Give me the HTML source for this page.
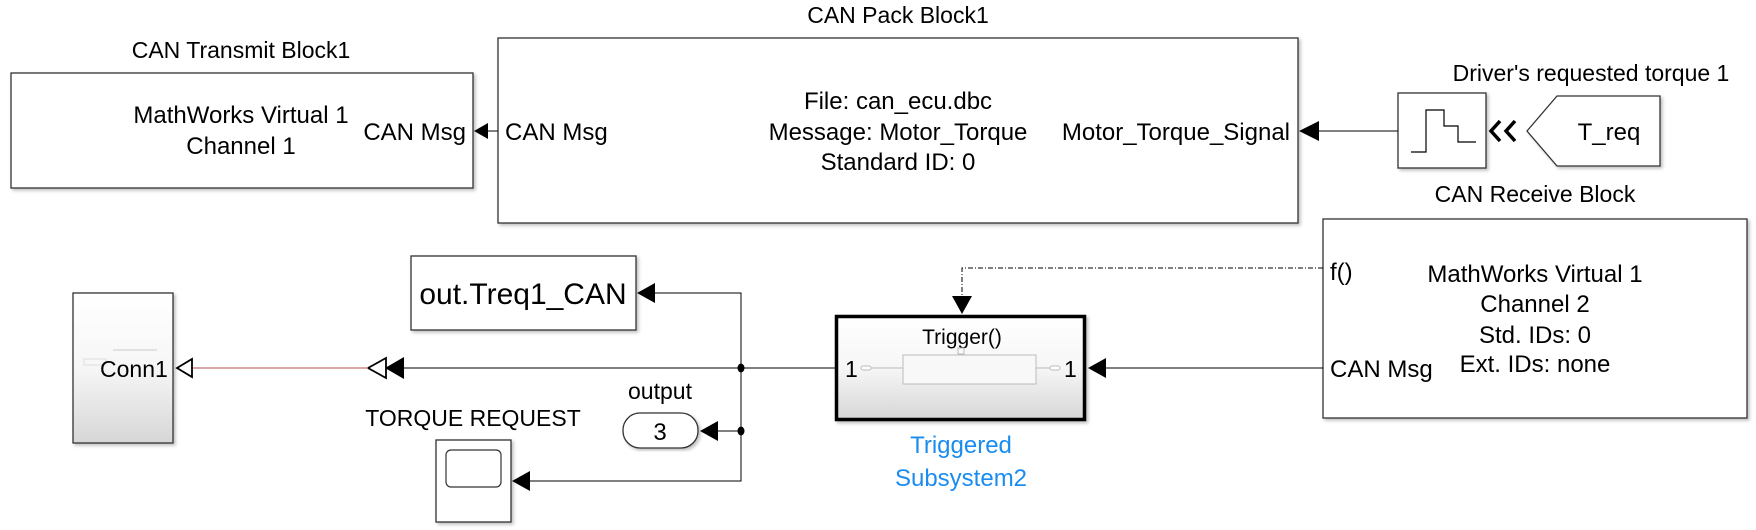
<!DOCTYPE html>
<html><head><meta charset="utf-8"><style>
html,body{margin:0;padding:0;background:#fff;}
svg{display:block;}
text{font-family:"Liberation Sans",Arial,sans-serif;fill:#000;}
</style></head><body>
<svg width="1756" height="530" viewBox="0 0 1756 530" xmlns="http://www.w3.org/2000/svg">
<defs>
<linearGradient id="g" x1="0" y1="0" x2="0" y2="1">
<stop offset="0" stop-color="#ffffff"/><stop offset="0.5" stop-color="#f6f6f6"/><stop offset="1" stop-color="#d6d6d6"/>
</linearGradient>
<filter id="sh" x="-5%" y="-5%" width="115%" height="115%"><feDropShadow dx="2" dy="2" stdDeviation="1.5" flood-color="#000" flood-opacity="0.25"/></filter>
</defs>

<!-- CAN Transmit -->
<text x="241" y="58" font-size="23" text-anchor="middle">CAN Transmit Block1</text>
<rect x="11" y="73" width="462" height="115" fill="#fff" stroke="#333" stroke-width="1.3" filter="url(#sh)"/>
<text x="241" y="123" font-size="24" text-anchor="middle">MathWorks Virtual 1</text>
<text x="241" y="154" font-size="24" text-anchor="middle">Channel 1</text>
<text x="466" y="140" font-size="24" text-anchor="end">CAN Msg</text>

<!-- CAN Pack -->
<text x="898" y="23" font-size="23" text-anchor="middle">CAN Pack Block1</text>
<rect x="498" y="38" width="800" height="185" fill="#fff" stroke="#333" stroke-width="1.3" filter="url(#sh)"/>
<text x="505" y="140" font-size="24">CAN Msg</text>
<text x="898" y="109" font-size="24" text-anchor="middle">File: can_ecu.dbc</text>
<text x="898" y="140" font-size="24" text-anchor="middle">Message: Motor_Torque</text>
<text x="898" y="170" font-size="24" text-anchor="middle">Standard ID: 0</text>
<text x="1290" y="140" font-size="24" text-anchor="end">Motor_Torque_Signal</text>
<polygon points="474,131 488,123 488,139" fill="#000"/>
<line x1="488" y1="131" x2="498" y2="131" stroke="#000" stroke-width="1"/>

<!-- Step + From -->
<text x="1591" y="81" font-size="23" text-anchor="middle">Driver's requested torque 1</text>
<rect x="1398" y="93" width="88" height="75" fill="#fff" stroke="#333" stroke-width="1.3" filter="url(#sh)"/>
<polyline points="1411,152 1426,152 1426,110 1444,110 1444,126 1458,126 1458,142 1476,142" fill="none" stroke="#000" stroke-width="1.2"/>
<line x1="1319" y1="131" x2="1398" y2="131" stroke="#000" stroke-width="1"/>
<polygon points="1299,131 1319,121 1319,141" fill="#000"/>
<polyline points="1500,121 1491,131 1500,141" fill="none" stroke="#000" stroke-width="3.5"/>
<polyline points="1515,121 1506,131 1515,141" fill="none" stroke="#000" stroke-width="3.5"/>
<polygon points="1527,131 1557,96 1660,96 1660,166 1557,166" fill="#fff" stroke="#333" stroke-width="1.3" filter="url(#sh)"/>
<text x="1609" y="140" font-size="24" text-anchor="middle">T_req</text>

<!-- CAN Receive -->
<text x="1535" y="202" font-size="23" text-anchor="middle">CAN Receive Block</text>
<rect x="1323" y="219" width="424" height="199" fill="#fff" stroke="#333" stroke-width="1.3" filter="url(#sh)"/>
<text x="1330" y="280" font-size="24">f()</text>
<text x="1535" y="282" font-size="24" text-anchor="middle">MathWorks Virtual 1</text>
<text x="1535" y="312" font-size="24" text-anchor="middle">Channel 2</text>
<text x="1535" y="343" font-size="24" text-anchor="middle">Std. IDs: 0</text>
<text x="1535" y="372" font-size="24" text-anchor="middle">Ext. IDs: none</text>
<text x="1330" y="377" font-size="24">CAN Msg</text>

<!-- trigger dashed -->
<polyline points="1323,268 962,268 962,297" fill="none" stroke="#000" stroke-width="1" stroke-dasharray="5,2,1,2"/>
<polygon points="962,314 952,296 972,296" fill="#000"/>
<line x1="1106" y1="368" x2="1323" y2="368" stroke="#000" stroke-width="1"/>
<polygon points="1088,368 1106,358 1106,378" fill="#000"/>

<!-- Triggered subsystem -->
<rect x="836.5" y="316.5" width="248" height="103" fill="url(#g)" stroke="#000" stroke-width="3.5" filter="url(#sh)"/>
<text x="962" y="344" font-size="21" text-anchor="middle">Trigger()</text>
<rect x="958" y="348" width="6" height="6" fill="none" stroke="#bbb" stroke-width="1"/>
<rect x="903" y="355" width="133" height="29" fill="#f8f8f8" stroke="#bbb" stroke-width="1"/>
<line x1="871" y1="368" x2="903" y2="368" stroke="#bbb"/>
<line x1="1036" y1="368" x2="1050" y2="368" stroke="#bbb"/>
<rect x="861" y="366" width="10" height="4" rx="2" fill="#fff" stroke="#bbb"/>
<rect x="1050" y="366" width="10" height="4" rx="2" fill="#fff" stroke="#bbb"/>
<text x="845" y="377" font-size="23">1</text>
<text x="1064" y="377" font-size="23">1</text>
<text x="961" y="453" font-size="24" text-anchor="middle" style="fill:#1a8cf0">Triggered</text>
<text x="961" y="486" font-size="24" text-anchor="middle" style="fill:#1a8cf0">Subsystem2</text>

<!-- branches -->
<line x1="404" y1="368" x2="836" y2="368" stroke="#000" stroke-width="1"/>
<polyline points="655,293 741,293 741,481 530,481" fill="none" stroke="#000" stroke-width="1"/>
<line x1="718" y1="431" x2="741" y2="431" stroke="#000" stroke-width="1"/>
<ellipse cx="741" cy="368" rx="3.5" ry="4.5" fill="#000"/>
<ellipse cx="741" cy="431" rx="3.5" ry="4.5" fill="#000"/>

<!-- To workspace -->
<rect x="411" y="256" width="225" height="74" fill="#fff" stroke="#333" stroke-width="1.3" filter="url(#sh)"/>
<text x="523" y="304" font-size="30" text-anchor="middle">out.Treq1_CAN</text>
<polygon points="637,293 655,283 655,303" fill="#000"/>

<!-- goto -->
<text x="660" y="399" font-size="23" text-anchor="middle">output</text>
<rect x="623" y="413" width="75" height="35" rx="17" fill="#fff" stroke="#333" stroke-width="1.3" filter="url(#sh)"/>
<text x="660" y="440" font-size="24" text-anchor="middle">3</text>
<polygon points="700,431 718,421 718,441" fill="#000"/>

<!-- scope -->
<text x="473" y="426" font-size="23" text-anchor="middle">TORQUE REQUEST</text>
<rect x="436" y="440" width="75" height="82" fill="#fff" stroke="#333" stroke-width="1.3" filter="url(#sh)"/>
<rect x="446" y="450" width="55" height="37" rx="5" fill="#fff" stroke="#333" stroke-width="1.2"/>
<polygon points="512,481 530,471 530,491" fill="#000"/>

<!-- Conn -->
<polygon points="385,368 404,357 404,379" fill="#000"/>
<polygon points="368,368 386,358 386,378" fill="#fff" stroke="#000" stroke-width="1.8"/>
<line x1="193" y1="368" x2="368" y2="368" stroke="#c87070" stroke-width="1.2"/>
<rect x="73" y="293" width="100" height="150" fill="url(#g)" stroke="#333" stroke-width="1.3" filter="url(#sh)"/>
<line x1="113" y1="350" x2="157" y2="350" stroke="#ccc"/>
<rect x="84" y="359" width="22" height="6" fill="none" stroke="#ddd"/>
<text x="100" y="377" font-size="23">Conn1</text>
<polygon points="177,368 192,359 192,377" fill="#fff" stroke="#000" stroke-width="1.8"/>
</svg>
</body></html>
